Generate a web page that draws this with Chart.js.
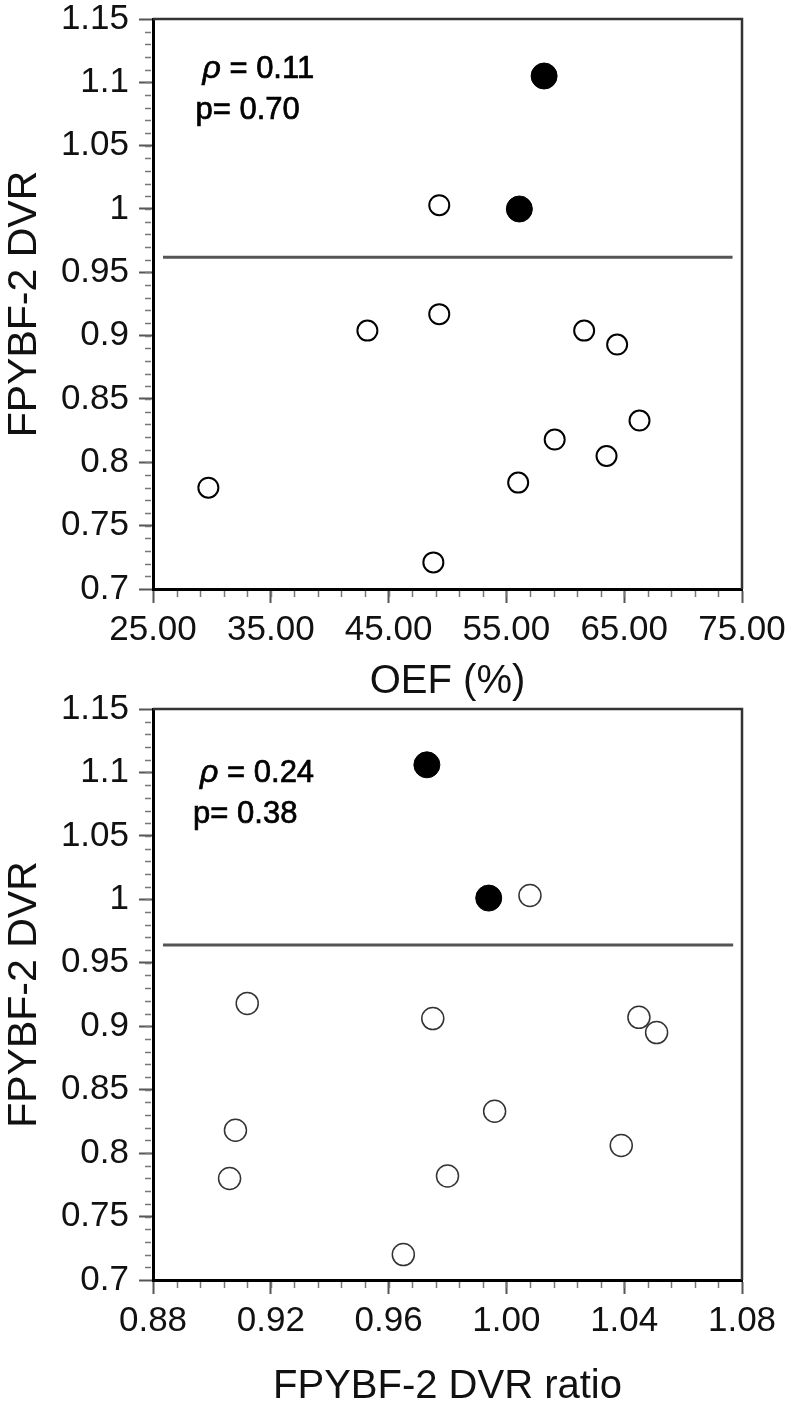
<!DOCTYPE html>
<html><head><meta charset="utf-8">
<script src="https://cdn.jsdelivr.net/npm/chart.js@4.4.1/dist/chart.umd.min.js"></script>
<style>
html,body{margin:0;padding:0;background:#fff;}
#wrap{position:relative;width:794px;height:1405px;overflow:hidden;}
canvas{position:absolute;left:0;}
#c1{top:0;} #c2{top:694px;}
</style></head><body>
<div id="wrap"><canvas id="c1" width="794" height="710"></canvas><canvas id="c2" width="794" height="721"></canvas></div>
<script>
// ---------- DATA ----------
const yTickValues = [0.7, 0.75, 0.8, 0.85, 0.9, 0.95, 1.0, 1.05, 1.1, 1.15];
const yTickLabels = ['0.7', '0.75', '0.8', '0.85', '0.9', '0.95', '1', '1.05', '1.1', '1.15'];

// Top panel: OEF (%)
const oefTickValues = [25, 35, 45, 55, 65, 75];
const oefTickLabels = ['25.00', '35.00', '45.00', '55.00', '65.00', '75.00'];
const oefOpenX = [29.7, 43.2, 48.8, 49.3, 49.3, 56.0, 59.1, 61.6, 63.5, 64.4, 66.3];
const oefOpenY = [0.780, 0.904, 0.721, 1.003, 0.917, 0.784, 0.818, 0.904, 0.805, 0.893, 0.833];
const oefFilledX = [56.1, 58.2];
const oefFilledY = [1.000, 1.105];
const oefRefY = 0.962;
const oefRefSpan = [25.85, 74.2];
const oefRho = '0.11';
const oefP = '0.70';

// Bottom panel: FPYBF-2 DVR ratio
const ratioTickValues = [0.88, 0.92, 0.96, 1.00, 1.04, 1.08];
const ratioTickLabels = ['0.88', '0.92', '0.96', '1.00', '1.04', '1.08'];
const ratioOpenX = [0.912, 0.975, 1.045, 1.051, 0.996, 0.908, 0.906, 0.980, 1.039, 0.965, 1.008];
const ratioOpenY = [0.918, 0.906, 0.907, 0.895, 0.833, 0.818, 0.780, 0.782, 0.806, 0.720, 1.003];
const ratioFilledX = [0.973, 0.994];
const ratioFilledY = [1.106, 1.001];
const ratioRefY = 0.964;
const ratioRefSpan = [0.8834, 1.077];
const ratioRho = '0.24';
const ratioP = '0.38';

const yTitle = 'FPYBF-2 DVR';
const oefTitle = 'OEF (%)';
const ratioTitle = 'FPYBF-2 DVR ratio';

// ---------- RENDER ----------
const FONT = "'Liberation Sans', Arial, sans-serif";

const decorPlugin = {
  id: 'decor',
  afterDraw(chart, args, opts) {
    const ctx = chart.ctx;
    const a = chart.chartArea;
    const xs = chart.scales.x, ys = chart.scales.y;
    ctx.save();
    // top & right frame
    ctx.strokeStyle = '#333';
    ctx.lineWidth = 2.5;
    ctx.beginPath();
    ctx.moveTo(a.left, a.top); ctx.lineTo(a.right, a.top); ctx.lineTo(a.right, a.bottom);
    ctx.stroke();
    // minor ticks
    ctx.strokeStyle = '#777';
    ctx.lineWidth = 1.5;
    const nx = Math.round((xs.max - xs.min) / opts.xMinor);
    for (let k = 1; k < nx; k++) {
      const v = xs.min + k * opts.xMinor;
      const px = Math.round(xs.getPixelForValue(v)) + 0.5;
      ctx.beginPath(); ctx.moveTo(px, a.bottom + 2); ctx.lineTo(px, a.bottom + 8); ctx.stroke();
    }
    const ny = Math.round((ys.max - ys.min) / opts.yMinor);
    for (let k = 1; k < ny; k++) {
      const v = ys.min + k * opts.yMinor;
      const py = Math.round(ys.getPixelForValue(v)) + 0.5;
      ctx.beginPath(); ctx.moveTo(a.left - 8, py); ctx.lineTo(a.left - 2, py); ctx.stroke();
    }
    // annotation
    const tx = xs.getPixelForValue(opts.textX);
    const ty = ys.getPixelForValue(opts.textY);
    ctx.fillStyle = '#000';
    ctx.strokeStyle = '#000';
    ctx.lineWidth = 0.7;
    ctx.textBaseline = 'alphabetic';
    ctx.textAlign = 'left';
    ctx.font = 'italic 32px ' + FONT;
    ctx.fillText('\u03C1', tx, ty);
    ctx.strokeText('\u03C1', tx, ty);
    const w = ctx.measureText('\u03C1').width;
    ctx.font = '31px ' + FONT;
    const l1 = ' = ' + opts.rho, l2 = 'p= ' + opts.p;
    ctx.fillText(l1, tx + w, ty);
    ctx.strokeText(l1, tx + w, ty);
    ctx.fillText(l2, tx - 7, ty + 41);
    ctx.strokeText(l2, tx - 7, ty + 41);
    ctx.restore();
  }
};

function buildChart(id, c) {
  const openPts = c.openX.map((x, i) => ({ x, y: c.openY[i] }));
  const filledPts = c.filledX.map((x, i) => ({ x, y: c.filledY[i] }));
  const refPts = c.refSpan.map(x => ({ x, y: c.refY }));
  return new Chart(document.getElementById(id), {
    type: 'scatter',
    data: {
      datasets: [
        { type: 'line', data: refPts, borderColor: '#555', borderWidth: 3, pointRadius: 0, order: 3 },
        { data: openPts, pointRadius: c.openR, pointBackgroundColor: '#fff', pointBorderColor: c.openColor, pointBorderWidth: c.openW, order: 2 },
        { data: filledPts, pointRadius: c.filledR, pointBackgroundColor: '#000', pointBorderColor: '#000', pointBorderWidth: 1, order: 1 }
      ]
    },
    plugins: [decorPlugin],
    options: {
      responsive: false,
      animation: false,
      devicePixelRatio: 1,
      layout: { padding: { left: 0, right: 52, top: c.topPad, bottom: 0 } },
      plugins: {
        legend: { display: false },
        tooltip: { enabled: false },
        decor: { xMinor: c.xMinor, yMinor: 0.01, textX: c.textX, textY: c.textY, rho: c.rho, p: c.p }
      },
      scales: {
        x: {
          type: 'linear', position: 'bottom', min: c.xTickValues[0], max: c.xTickValues[c.xTickValues.length - 1],
          afterBuildTicks: s => { s.ticks = c.xTickValues.map(v => ({ value: v })); },
          afterFit: s => { s.height = c.xHeight; s.paddingLeft = 0; s.paddingRight = 0; },
          ticks: { callback: (v, i) => c.xTickLabels[i], font: { family: FONT, size: 35 }, color: '#111', padding: 6, maxRotation: 0, autoSkip: false },
          grid: { drawOnChartArea: false, drawTicks: true, tickLength: 14, tickColor: '#555', tickWidth: 2 },
          border: { display: true, color: '#000', width: 3 },
          title: { display: true, text: c.xTitle, font: { family: FONT, size: 40 }, color: '#111', padding: { top: 0, bottom: 4 } }
        },
        y: {
          type: 'linear', min: 0.7, max: 1.15,
          afterBuildTicks: s => { s.ticks = yTickValues.map(v => ({ value: v })); },
          afterFit: s => { s.width = 153; s.paddingTop = 0; s.paddingBottom = 0; },
          ticks: { callback: (v, i) => yTickLabels[i], font: { family: FONT, size: 35 }, color: '#111', padding: 10, autoSkip: false },
          grid: { drawOnChartArea: false, drawTicks: true, tickLength: 14, tickColor: '#555', tickWidth: 2 },
          border: { display: true, color: '#000', width: 3 },
          title: { display: true, text: yTitle, font: { family: FONT, size: 41 }, color: '#111', padding: { top: 0, bottom: 0 } }
        }
      }
    }
  });
}

buildChart('c1', {
  openX: oefOpenX, openY: oefOpenY, filledX: oefFilledX, filledY: oefFilledY,
  refY: oefRefY, refSpan: oefRefSpan, rho: oefRho, p: oefP,
  xTickValues: oefTickValues, xTickLabels: oefTickLabels, xTitle: oefTitle,
  xMinor: 2, topPad: 19, xHeight: 710 - 589,
  textX: 29.2, textY: 1.1035,
  openR: 10, openW: 2, openColor: '#000', filledR: 13
});
buildChart('c2', {
  openX: ratioOpenX, openY: ratioOpenY, filledX: ratioFilledX, filledY: ratioFilledY,
  refY: ratioRefY, refSpan: ratioRefSpan, rho: ratioRho, p: ratioP,
  xTickValues: ratioTickValues, xTickLabels: ratioTickLabels, xTitle: ratioTitle,
  xMinor: 0.008, topPad: 15, xHeight: 721 - 586,
  textX: 0.896, textY: 1.0925,
  openR: 11, openW: 1.5, openColor: '#333', filledR: 13
});
</script>
</body></html>
